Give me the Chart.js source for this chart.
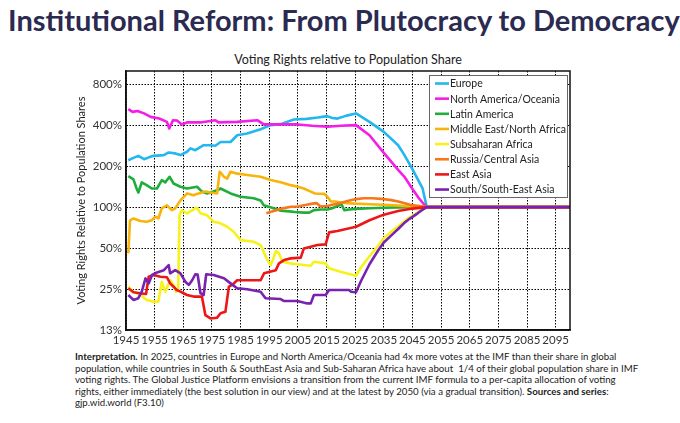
<!DOCTYPE html>
<html><head><meta charset="utf-8">
<script src="https://cdn.jsdelivr.net/npm/chart.js@4"></script>
<style>
html,body{margin:0;padding:0;background:#fff;width:680px;height:423px;overflow:hidden;font-family:Lato,"Open Sans",sans-serif;}
#title{position:absolute;left:8px;top:2px;font-size:29px;font-weight:700;color:#2b2a50;white-space:nowrap;letter-spacing:0px;}
#sub{position:absolute;left:0;width:680px;top:52px;text-align:center;font-size:12.5px;color:#222;padding-left:16px;box-sizing:border-box;}
#wrap{position:absolute;left:0;top:48px;width:680px;height:302px;}
#cap{position:absolute;left:75px;top:351px;font-size:9.7px;line-height:11.6px;color:#222;white-space:nowrap;}
</style></head><body>
<div id="title">Institutional Reform: From Plutocracy to Democracy</div>
<div id="sub">Voting Rights relative to Population Share</div>
<div id="wrap"><canvas id="c" width="680" height="302"></canvas></div>
<div id="cap"><b>Interpretation.</b> In 2025, countries in Europe and North America/Oceania had 4x more votes at the IMF than their share in global<br>population, while countries in South &amp; SouthEast Asia and Sub-Saharan Africa have about&nbsp; 1/4 of their global population share in IMF<br>voting rights. The Global Justice Platform envisions a transition from the current IMF formula to a per-capita allocation of voting<br>rights, either immediately (the best solution in our view) and at the latest by 2050 (via a gradual transition). <b>Sources and series</b>:<br>gjp.wid.world (F3.10)</div>
<script>
const seriesNames = ["Europe","North America/Oceania","Latin America","Middle East/North Africa","Subsaharan Africa","Russia/Central Asia","East Asia","South/South-East Asia"];
const seriesColors = ["#22b7ee","#f41ee6","#1fae3a","#f7b40a","#f7f21a","#f7771a","#ee1717","#7a22b0"];

const xTicks = [1945,1955,1965,1975,1985,1995,2005,2015,2025,2035,2045,2055,2065,2075,2085,2095];
const yTicks = [12.5,25,50,100,200,400,800];
const yTickLabels = ["13%","25%","50%","100%","200%","400%","800%"];

const europeYears = [1945.8,1947.6,1949.3,1951.3,1953,1954.6,1958.2,1959.9,1962.2,1964,1966.3,1967.5,1969.2,1972.1,1974.5,1976.2,1978,1981.5,1983.8,1987.3,1992,1995.5,1999,2003.6,2008,2012,2015.3,2017,2018.8,2022,2025.3,2030,2035,2040,2042,2045,2047,2048.5,2050,2100];
const europeValues = [221,230,238,225,232,238,241,252,248,241,255,270,262,285,285,282,301,301,337,347,373,400,407,440,445,455,466,452,447,470,488,423,357,285,245,190,158,138,100,100];

const namYears = [1945.8,1947.3,1949,1951.3,1953.6,1956.6,1959.3,1960.1,1961.4,1962.8,1964.5,1966.3,1971,1976.2,1977.3,1983.8,1990.8,1993.1,1999,2005,2010,2015.3,2020,2025.3,2030,2035,2040,2042.2,2045,2047,2048.5,2050,2100];
const namValues = [524,501,509,488,460,448,423,378,435,433,405,419,419,435,419,423,435,405,405,405,396,389,396,400,337,250,188,167,136,118,108,100,100];

const latamYears = [1945.8,1947.6,1948.7,1949.3,1950.5,1952.2,1954,1955.8,1957.5,1958.7,1960.2,1961.6,1964,1966.3,1969.8,1971.5,1973.3,1976.8,1978,1981.5,1985,1989.6,1992,1993.1,1996,1999,2002,2004,2007,2009,2010.6,2013,2015.3,2017,2019.4,2020.3,2021.2,2023,2025.3,2030,2035,2040,2045,2050,2100];
const latamValues = [169,160,137,128,152,145,137,137,158,152,167,149,141,137,141,130,126,133,137,126,119,116,112,103,99,94,93,92,91,91,95,96,96,98,103,104,95,96,97,98,99,99.5,100,100,100];

const meYears = [1945.8,1946.4,1947.6,1950,1952.2,1954,1955.2,1956.3,1957.5,1959.3,1961,1962.2,1964,1965.7,1966.3,1968.6,1969.2,1972.7,1974.5,1976.8,1977.7,1979.2,1980.3,1981.5,1983.4,1987.3,1992,1995.5,1999,2002.5,2005,2007.1,2009.5,2011,2014.2,2015.3,2016.5,2018,2020,2022,2025,2030,2035,2040,2045,2050,2100];
const meValues = [45.7,80,82.5,79,78,80,85,82.5,98,103,95,98,112,122,126,122,124,130,128,126,182,167,162,182,177,172,167,158,152,145,141,137,130,126,125,119,110,110,108,107,106,105,104,102.5,101,100,100];

const ssaYears = [1945.8,1947.6,1950,1952.2,1954.6,1956.3,1957.5,1958.7,1960.4,1961.6,1962.5,1963.2,1963.7,1964.5,1966.3,1969.7,1971,1973.3,1975.6,1978,1980.3,1982.6,1985,1989.6,1992,1994.3,1995.5,1996.5,1997.3,1998.4,1999.6,2002.5,2004.8,2007.1,2009.5,2010.6,2014.7,2015.9,2019.9,2025.3,2027,2030,2033,2035,2038,2040,2042,2044,2046.8,2048,2050,2100];
const ssaValues = [26,23.9,22.7,20.8,20.2,20.2,28.3,23.9,29,26.8,23.9,24.5,87.3,95,90,99,90,87,78,76,71.7,65.9,57.2,55.6,52.6,41,37.5,42,47.5,45.7,39.7,38.6,38,37.5,37.1,39.7,38.6,35.5,33.5,31.3,36,43.5,52,59,67,72,78,84,91,95,100,100];

const rcaYears = [1994,1996,1999,2002.5,2005,2008,2010.6,2011.5,2012.9,2015.3,2017,2019,2022.3,2025.3,2028,2031,2034,2037.6,2040,2043,2044.6,2046,2048,2050,2100];
const rcaValues = [90,93,97,100.5,101,104,106.5,107,101,102,104,106,110.7,114.5,116,116,115,112.5,110,106,103.4,102.5,101.3,100,100];

const eaYears = [1945.8,1947.6,1950,1952,1952.9,1954.6,1957,1959.3,1960.4,1961.6,1962.7,1964,1966.3,1968.6,1971.5,1972.7,1974.5,1976.8,1978,1979.7,1980.9,1982.1,1983.8,1992,1993.2,1997.3,1998.4,2000.2,2002.5,2006,2007.1,2009.5,2011.8,2014.7,2015.9,2018.8,2025.3,2030,2035,2040,2045,2050,2100];
const eaValues = [25.3,23.7,23.3,23,30.8,31.7,30.8,30.5,27.5,26,24.6,23.9,22.6,22,22,16.1,15.2,15.4,16.6,17,26,26.8,29,29,32.6,34.4,38.6,40.8,42,42.5,49.7,51.1,52.6,53.2,65.2,66.7,71.7,80,88,93.5,97.5,100,100];

const ssea_Years = [1945.8,1947.6,1949.3,1950.5,1951.8,1952.9,1954.1,1955.8,1958.2,1959.9,1960.4,1962.2,1964,1965.7,1966.9,1968.1,1969.2,1970,1971,1972.1,1973,1975.6,1979.2,1981.5,1983.8,1987.3,1992,1993.7,1999,2000.2,2004.8,2008.3,2009.5,2010.6,2014.7,2015.9,2022.9,2023.5,2025.3,2027,2030,2033,2035,2038,2040,2042,2044,2046.8,2048,2050,2100];
const ssea_Values = [22.6,20.8,21.4,23.9,29.9,27.5,31.7,33.1,34.4,37.5,32.6,34.4,32.6,28.3,26.8,29,32.1,32,23.3,22.6,32.1,31.7,30,27.5,25.3,24.9,23.9,21.4,21.1,20.4,20.4,19.6,19.6,22.6,22.6,24.6,24.6,23.9,23.7,28.5,38,48,55,63,69,76,82,90,94,100,100];

const allYears = [europeYears,namYears,latamYears,meYears,ssaYears,rcaYears,eaYears,ssea_Years];
const allValues = [europeValues,namValues,latamValues,meValues,ssaValues,rcaValues,eaValues,ssea_Values];

const datasets = seriesNames.map((name,i)=>({
  label:name,
  data: allYears[i].map((yr,j)=>({x:yr,y:allValues[i][j]})),
  borderColor: seriesColors[i],
  backgroundColor: seriesColors[i],
  borderWidth: 2.6,
  pointRadius: 0,
  tension: 0,
  borderJoinStyle:'round',
  order: 8-i
}));

const boxPlugin = {
  id:'box',
  afterDraw(chart){
    const {ctx, chartArea:a} = chart;
    ctx.save();
    ctx.strokeStyle='#111'; ctx.lineWidth=1.5;
    ctx.strokeRect(a.left,a.top,a.right-a.left,a.bottom-a.top);
    const lx=429, ly=75-48, lw=138, lh=122;
    ctx.fillStyle='#fff'; ctx.fillRect(lx,ly,lw,lh);
    ctx.strokeStyle='#666'; ctx.lineWidth=1; ctx.strokeRect(lx+0.5,ly+0.5,lw,lh);
    ctx.font='10.5px Lato, sans-serif'; ctx.textBaseline='middle'; ctx.textAlign='left';
    seriesNames.forEach((n,i)=>{
      const y = ly+8.5+i*15.15;
      ctx.strokeStyle=seriesColors[i]; ctx.lineWidth=2.6;
      ctx.beginPath(); ctx.moveTo(435,y); ctx.lineTo(449,y); ctx.stroke();
      ctx.fillStyle='#222'; ctx.fillText(n,450,y+0.5);
    });
    ctx.restore();
  }
};

new Chart(document.getElementById('c'),{
  type:'line',
  data:{datasets},
  plugins:[boxPlugin],
  options:{
    responsive:false, animation:false,
    layout:{padding:{left:72,right:110,top:23,bottom:0}},
    plugins:{legend:{display:false},tooltip:{enabled:false}},
    scales:{
      x:{type:'linear',min:1945,max:2100,
        afterBuildTicks(s){s.ticks=xTicks.map(v=>({value:v}));},
        afterFit(s){s.height=20;},
        ticks:{autoSkip:false,maxRotation:0,color:'#333',font:{family:'Lato',size:11.5},padding:3,callback:v=>String(v)},
        grid:{color:'#000',lineWidth:1,tickLength:0,drawTicks:false},
        border:{display:true,color:'#111',width:1.5,dash:[1.5,1.5]}
      },
      y:{type:'logarithmic',min:12.5,max:1000,
        afterBuildTicks(s){s.ticks=yTicks.map(v=>({value:v}));},
        afterFit(s){s.width=54;},
        ticks:{autoSkip:false,color:'#333',font:{family:'Lato',size:11.5},padding:4,
          callback:(v)=>{const k=yTicks.indexOf(v);return k>=0?yTickLabels[k]:'';}},
        grid:{color:'#000',lineWidth:1,drawTicks:false},
        border:{display:true,color:'#111',width:1.5,dash:[1.5,1.5]},
        title:{display:true,text:'Voting Rights Relative to Population Shares',color:'#222',font:{family:'Lato',size:11},padding:{top:3,bottom:0}}
      }
    }
  }
});
</script>
</body></html>
